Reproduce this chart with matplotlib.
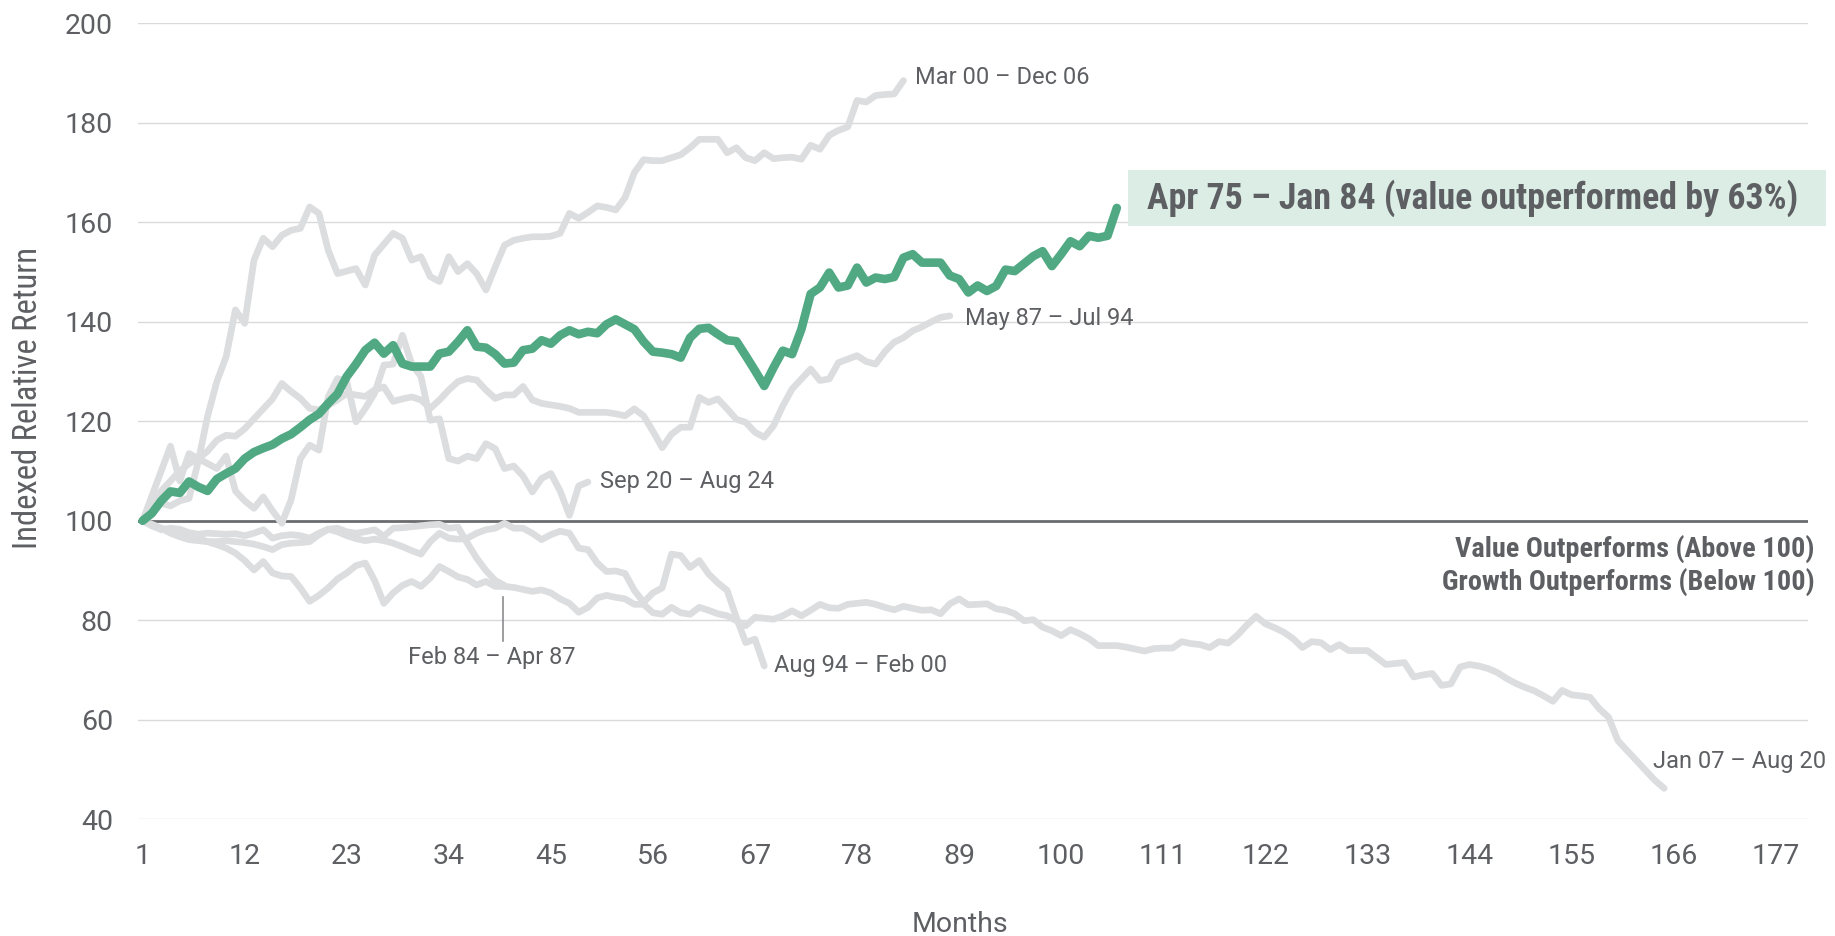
import matplotlib.pyplot as plt
from matplotlib.patches import Rectangle

plt.rcParams['font.family'] = ['Roboto', 'DejaVu Sans']

# --- Indexed relative return (value vs growth), month 1 = 100 ---
apr75_jan84 = [
    100, 101.5, 104, 105.9, 105.6, 107.9, 106.8, 106.0, 108.4, 109.5,
    110.5, 112.5, 113.8, 114.6, 115.3, 116.5, 117.4, 118.8, 120.3, 121.5,
    123.6, 125.5, 129.0, 131.5, 134.3, 135.8, 133.6, 135.3, 131.6, 131.0,
    131.0, 131.0, 133.6, 134.0, 136.0, 138.3, 135.0, 134.8, 133.5, 131.6,
    131.8, 134.3, 134.6, 136.3, 135.6, 137.3, 138.3, 137.5, 138.0, 137.7,
    139.5, 140.5, 139.5, 138.5, 136.0, 134.0, 133.8, 133.5, 132.8, 136.8,
    138.6, 138.8, 137.5, 136.3, 136.1, 133.2, 130.2, 127.1, 130.8, 134.2,
    133.5, 138.5, 145.6, 146.9, 149.9, 146.9, 147.3, 150.9, 147.9, 148.9,
    148.6, 149.0, 152.9, 153.6, 151.9, 151.9, 151.9, 149.3, 148.6, 145.9,
    147.3, 146.2, 147.2, 150.5, 150.2, 151.7, 153.2, 154.2, 151.2, 153.6,
    156.2, 155.2, 157.3, 156.9, 157.3, 162.9,
]
mar00_dec06 = [
    100, 102, 103.5, 103, 104, 104.5, 112, 121, 128, 133,
    142.4, 139.7, 152.4, 156.8, 155.1, 157.4, 158.4, 158.8, 163.1, 161.8,
    154.4, 149.7, 150.2, 150.7, 147.4, 153.4, 155.6, 157.8, 156.8, 152.4,
    153.1, 149.1, 148.1, 153.1, 150.1, 151.7, 149.7, 146.4, 151.0, 155.4,
    156.4, 156.8, 157.1, 157.1, 157.2, 157.8, 161.8, 160.8, 162.0, 163.3,
    163.0, 162.5, 165.0, 170.0, 172.6, 172.4, 172.4, 173.0, 173.6, 175.0,
    176.7, 176.7, 176.7, 174.0, 175.0, 173.0, 172.4, 174.0, 172.8, 173.0,
    173.1, 172.7, 175.5, 174.7, 177.5, 178.5, 179.2, 184.5, 184.2, 185.5,
    185.7, 185.8, 188.5,
]
may87_jul94 = [
    100, 103, 106, 108, 110, 111.5, 112.5, 114, 116.2, 117.2,
    117, 118.5, 120.5, 122.5, 124.5, 127.6, 126, 124.6, 122.6, 122.3,
    123.2, 124.3, 125.6, 125.3, 125, 126.3, 126.9, 124, 124.5, 124.9,
    124.3, 122.6, 124.3, 126.3, 128, 128.6, 128.3, 126.3, 124.6, 125.3,
    125.3, 127, 124.3, 123.6, 123.3, 123, 122.6, 121.8, 121.8, 121.8,
    121.8, 121.5, 121.1, 122.5, 121.1, 118, 114.7, 117.4, 118.8, 118.8,
    124.8, 123.8, 124.5, 122.5, 120.4, 119.8, 117.8, 116.8, 119.1, 123.1,
    126.5, 128.5, 130.5, 128.2, 128.5, 131.8, 132.5, 133.2, 132, 131.5,
    134, 135.9, 136.8, 138.2, 139, 140, 140.9, 141.2,
]
sep20_aug24 = [
    100, 105, 110, 115, 108, 113.5, 112.5, 111.5, 110.5, 113,
    106, 104, 102.5, 104.8, 102, 99.5, 104.2, 112.5, 115.2, 114.2,
    124.9, 128.6, 128.0, 119.9, 122.6, 125.6, 131.3, 131.5, 137.3, 131.5,
    129, 120.2, 120.5, 112.5, 112, 113, 112.5, 115.5, 114.5, 110.5,
    111, 109, 105.8, 108.5, 109.5, 106, 101.1, 107, 107.8,
]
feb84_apr87 = [
    100, 99, 98.2, 98.5, 98.3, 97.6, 97.3, 97.5, 97.4, 97.3,
    97.4, 97, 97.5, 98.2, 96.5, 97, 97.2, 97, 96.5, 97.5,
    98.3, 98.5, 97.8, 97.5, 97.8, 98.2, 96.9, 98.5, 98.6, 98.8,
    99, 99.2, 99.3, 98.5, 98.7, 95.5, 92.5, 90, 88, 87,
]
aug94_feb00 = [
    100, 99.3, 98.5, 97.5, 96.8, 96.2, 96, 95.8, 95.8, 96,
    95.8, 95.6, 95.3, 94.8, 94.2, 95.2, 95.5, 95.6, 95.8, 97.2,
    98.3, 97.8, 97, 96.4, 96, 96.3, 96, 95.5, 94.8, 94,
    93.3, 95.8, 97.5, 96.5, 96.3, 96.5, 97.5, 98.2, 98.5, 99.5,
    98.5, 98.5, 97.5, 96.2, 97.2, 97.9, 97.5, 94.5, 94.2, 91.5,
    89.8, 89.9, 89.4, 86, 83.6, 85.5, 86.5, 93.3, 93, 90.6,
    92, 89.3, 87.5, 86, 80.5, 75.5, 76.2, 70.8,
]
jan07_aug20 = [
    100, 99, 98.5, 98, 97.5, 97, 96.5, 95.8, 95.2, 94.5,
    93.5, 92, 90.1, 91.8, 89.5, 88.9, 88.8, 86.5, 83.8, 85,
    86.5, 88.3, 89.5, 91, 91.5, 88, 83.4, 85.5, 87, 87.8,
    86.8, 88.5, 90.8, 89.8, 88.7, 88.2, 87.1, 87.8, 86.8, 86.8,
    86.6, 86.2, 85.8, 86.1, 85.5, 84.3, 83.4, 81.6, 82.6, 84.5,
    85, 84.6, 84.3, 83.2, 83.2, 81.5, 81.2, 82.6, 81.5, 81.2,
    82.6, 82, 81.3, 80.9, 79.9, 78.9, 80.6, 80.4, 80.2, 80.9,
    81.9, 80.9, 82, 83.2, 82.5, 82.4, 83.2, 83.4, 83.6, 83.2,
    82.6, 82.1, 82.8, 82.4, 82, 82.1, 81.3, 83.3, 84.3, 83.1,
    83.2, 83.3, 82.3, 82, 81.3, 79.9, 80.1, 78.6, 77.9, 76.9,
    78.1, 77.3, 76.3, 74.9, 74.9, 74.9, 74.6, 74.2, 73.8, 74.3,
    74.4, 74.4, 75.7, 75.3, 75.1, 74.5, 75.7, 75.4, 77, 79,
    80.8, 79.3, 78.5, 77.6, 76.3, 74.5, 75.7, 75.5, 74.1, 75.1,
    73.9, 73.9, 73.9, 72.5, 71.1, 71.3, 71.5, 68.6, 69, 69.3,
    66.9, 67.2, 70.6, 71.1, 70.8, 70.3, 69.5, 68.3, 67.3, 66.5,
    65.8, 64.8, 63.7, 65.9, 65, 64.8, 64.5, 62.2, 60.5, 55.8,
    53.8, 51.8, 49.8, 47.8, 46.2,
]

x_ticks = list(range(1, 178, 11))
y_ticks = list(range(40, 201, 20))

GREEN = '#51a983'
GRAY = '#dcdddf'
TEXT = '#5d5f63'
CONDENSED = ['Roboto Condensed', 'Roboto', 'DejaVu Sans']

fig = plt.figure(figsize=(18.35, 9.36), dpi=100)
ax = fig.add_axes([0.0752, 0.1248, 0.9101, 0.8502])

# --- gray episodes: (values, label, label offset in points) ---
gray_series = [
    (mar00_dec06, "Mar 00 \u2013 Dec 06", (8, 2)),
    (may87_jul94, "May 87 \u2013 Jul 94", (11, -2)),
    (sep20_aug24, "Sep 20 \u2013 Aug 24", (9, 0)),
    (aug94_feb00, "Aug 94 \u2013 Feb 00", (7, 0)),
    (jan07_aug20, "Jan 07 \u2013 Aug 20", (-8, 19)),
    (feb84_apr87, None, None),
]
for vals, label, off in gray_series:
    xs = range(1, len(vals) + 1)
    ax.plot(xs, vals, color=GRAY, lw=4.8, zorder=2,
            solid_joinstyle='round', solid_capstyle='round')
    if label:
        ax.annotate(label, xy=(len(vals), vals[-1]), xytext=off,
                    textcoords='offset points', ha='left', va='center',
                    fontsize=17, color=TEXT, annotation_clip=False)

# Feb 84 - Apr 87 label with leader line under its end point
n_feb = len(feb84_apr87)
ax.plot([n_feb - 0.2, n_feb - 0.2], [feb84_apr87[-1] - 2.3, feb84_apr87[-1] - 11.2],
        color='#8a8c8f', lw=1.2, zorder=2)
ax.text(n_feb - 1.4, feb84_apr87[-1] - 14.5, "Feb 84 \u2013 Apr 87",
        ha='center', va='center', fontsize=17, color=TEXT)

# --- highlighted episode ---
ax.plot(range(1, len(apr75_jan84) + 1), apr75_jan84, color=GREEN, lw=6.2,
        zorder=3, solid_joinstyle='round', solid_capstyle='round')
ax.add_patch(Rectangle((107.2, 159.3), 75.2, 11.2, facecolor='#dbede4',
                       edgecolor='none', clip_on=False, zorder=3))
ax.text(109.3, 164.9, "Apr 75 \u2013 Jan 84 (value outperformed by 63%)",
        ha='left', va='center', fontsize=25.8, fontweight='bold',
        color=TEXT, family=CONDENSED, zorder=4, clip_on=False)

# --- 100 reference line and its notes ---
ax.axhline(100, color='#6a6c6f', lw=2.0, zorder=1.5)
ax.text(181.2, 94.3, "Value Outperforms (Above 100)", ha='right', va='center',
        fontsize=20.3, fontweight='bold', color=TEXT, family=CONDENSED, clip_on=False)
ax.text(181.2, 87.7, "Growth Outperforms (Below 100)", ha='right', va='center',
        fontsize=20.3, fontweight='bold', color=TEXT, family=CONDENSED, clip_on=False)

# --- axes styling ---
ax.set_xlim(0.5, 180.5)
ax.set_ylim(40, 200)
ax.set_xticks(x_ticks)
ax.set_yticks(y_ticks)
ax.grid(axis='y', color='#dadada', lw=1.0, zorder=0)
ax.set_axisbelow(True)
for s in ax.spines.values():
    s.set_visible(False)
ax.tick_params(length=0, labelsize=20.5, labelcolor=TEXT)
ax.tick_params(axis='y', pad=18)
ax.tick_params(axis='x', pad=17)

fig.text(28 / 1835, 1 - 398 / 936, "Indexed Relative Return", rotation=90,
         ha='center', va='center', fontsize=23.5, color=TEXT, family=CONDENSED)
fig.text(960 / 1835, 1 - 925 / 936, "Months", ha='center', va='center',
         fontsize=20.5, color=TEXT)

fig.savefig("out.png", dpi=100)
